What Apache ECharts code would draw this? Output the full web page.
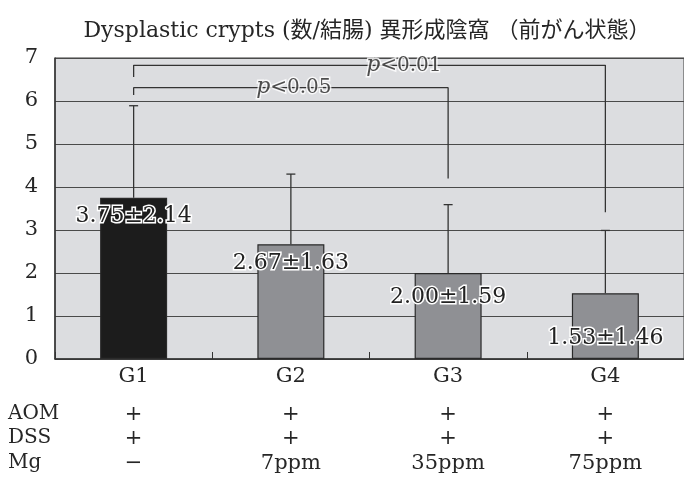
<!DOCTYPE html>
<html>
<head>
<meta charset="utf-8">
<script src="https://cdn.jsdelivr.net/npm/echarts@6/dist/echarts.min.js"></script>
<style>
  html, body { margin: 0; padding: 0; background: #fff; }
  #chart { width: 684px; height: 487px; }
</style>
</head>
<body>
<div id="chart"></div>
<script>
// Groups and measured values (mean ± SD of dysplastic crypts per colon)
const groups = ['G1', 'G2', 'G3', 'G4'];
const means = [3.75, 2.67, 2.00, 1.53];
const sds = [2.14, 1.63, 1.59, 1.46];

// Treatment table shown under the axis
const rowNames = ['AOM', 'DSS', 'Mg'];
const aomRow = ['+', '+', '+', '+'];
const dssRow = ['+', '+', '+', '+'];
const mgRow = ['−', '7ppm', '35ppm', '75ppm'];

// Significance brackets: from/to group, bar height, left drop end, right drop end
const bracketLow = { from: 0, to: 2, top: 6.31, leftEnd: 6.14, rightEnd: 4.20, text: '<0.05' };
const bracketHigh = { from: 0, to: 3, top: 6.83, leftEnd: 6.56, rightEnd: 3.41, text: '<0.01' };

const yTicks = [0, 1, 2, 3, 4, 5, 6, 7];

const SERIF = "'DejaVu Serif', 'Liberation Serif', 'Noto Sans CJK JP', serif";
const INK = '#262626';

// Vertical offset of each value label below its bar top
const labelDrop = [3, 3, 8, 29];
// Horizontal nudge of the p-value captions (anchored at group G2)
const pShift = [3, 113];

const chart = echarts.init(document.getElementById('chart'), null, { renderer: 'canvas' });

function tableAxis(values, offset) {
  return {
    type: 'category',
    data: groups,
    position: 'bottom',
    offset: offset,
    axisLine: { show: false },
    axisTick: { show: false },
    splitLine: { show: false },
    axisLabel: {
      margin: 0,
      fontFamily: SERIF,
      fontSize: 21,
      color: INK,
      formatter: (v, i) => values[i]
    }
  };
}

function bracketPoints(b) {
  return [[b.from, b.leftEnd], [b.from, b.top], [b.to, b.top], [b.to, b.rightEnd]];
}

const option = {
  backgroundColor: '#ffffff',
  animation: false,
  title: {
    text: 'Dysplastic crypts (数/結腸) 異形成陰窩 （前がん状態）',
    left: 362,
    textAlign: 'center',
    top: 15,
    textStyle: { fontFamily: SERIF, fontSize: 22, fontWeight: 'normal', color: INK }
  },
  grid: {
    left: 55, top: 58, right: -7, bottom: 128,
    show: true,
    backgroundColor: '#dcdde0',
    borderColor: '#3a3a3a',
    borderWidth: 1
  },
  xAxis: [
    {
      type: 'category',
      data: groups,
      position: 'bottom',
      axisLine: { show: true, lineStyle: { color: '#333', width: 1.5 } },
      axisTick: { show: true, inside: true, length: 7, lineStyle: { color: '#333', width: 1 } },
      axisLabel: { margin: 7, fontFamily: SERIF, fontSize: 21, color: INK },
      splitLine: { show: false }
    },
    tableAxis(aomRow, 45),
    tableAxis(dssRow, 69),
    tableAxis(mgRow, 94)
  ],
  yAxis: {
    type: 'value',
    min: yTicks[0],
    max: yTicks[yTicks.length - 1],
    interval: 1,
    axisLine: { show: true, lineStyle: { color: '#333', width: 1.5 } },
    axisTick: { show: false },
    axisLabel: { margin: 17, fontFamily: SERIF, fontSize: 21, color: INK },
    splitLine: { show: true, lineStyle: { color: '#4a4a4a', width: 1.2 } }
  },
  series: [
    {
      type: 'bar',
      barWidth: 67,
      data: means.map((m, i) => ({
        value: m,
        itemStyle: { color: i === 0 ? '#1c1c1c' : '#8f9094' },
        label: { offset: [0, labelDrop[i]] }
      })),
      itemStyle: { borderColor: '#2a2a2a', borderWidth: 1.2 },
      label: {
        show: true,
        position: 'insideTop',
        distance: 5,
        fontFamily: SERIF,
        fontSize: 22,
        color: '#222',
        textBorderColor: '#ffffff',
        textBorderWidth: 3,
        formatter: p => means[p.dataIndex].toFixed(2) + '±' + sds[p.dataIndex].toFixed(2)
      },
      z: 2
    },
    {
      // upper error whiskers: mean → mean + SD
      type: 'custom',
      data: means.map((m, i) => [i, m, m + sds[i]]),
      renderItem: (params, api) => {
        const base = api.coord([api.value(0), api.value(1)]);
        const top = api.coord([api.value(0), api.value(2)]);
        const half = 4.5;
        const style = { stroke: '#333', lineWidth: 1.3 };
        return {
          type: 'group',
          children: [
            { type: 'line', shape: { x1: base[0], y1: base[1], x2: top[0], y2: top[1] }, style },
            { type: 'line', shape: { x1: top[0] - half, y1: top[1], x2: top[0] + half, y2: top[1] }, style }
          ]
        };
      },
      z: 1
    },
    {
      type: 'line',
      data: bracketPoints(bracketLow),
      symbol: 'none',
      lineStyle: { color: '#333', width: 1.3 },
      z: 3
    },
    {
      type: 'line',
      data: bracketPoints(bracketHigh),
      symbol: 'none',
      lineStyle: { color: '#333', width: 1.3 },
      z: 3
    },
    {
      // p-value captions sitting on the brackets
      type: 'scatter',
      symbolSize: 0,
      data: [
        { value: [1, bracketLow.top], name: bracketLow.text, label: { offset: [pShift[0], 0] } },
        { value: [1, bracketHigh.top], name: bracketHigh.text, label: { offset: [pShift[1], 0] } }
      ],
      label: {
        show: true,
        position: 'inside',
        formatter: p => '{i|p}{n|' + p.name + '}',
        rich: {
          i: { fontFamily: SERIF, fontStyle: 'italic', fontSize: 22, color: '#222', textBorderColor: '#fff', textBorderWidth: 3 },
          n: { fontFamily: SERIF, fontSize: 20, color: '#222', textBorderColor: '#fff', textBorderWidth: 3 }
        }
      },
      z: 4
    }
  ],
  graphic: rowNames.map((name, i) => ({
    type: 'text',
    left: 8,
    top: [404, 428, 453][i],
    style: { text: name, font: '20px ' + SERIF, fill: INK }
  }))
};

chart.setOption(option);
</script>
</body>
</html>
